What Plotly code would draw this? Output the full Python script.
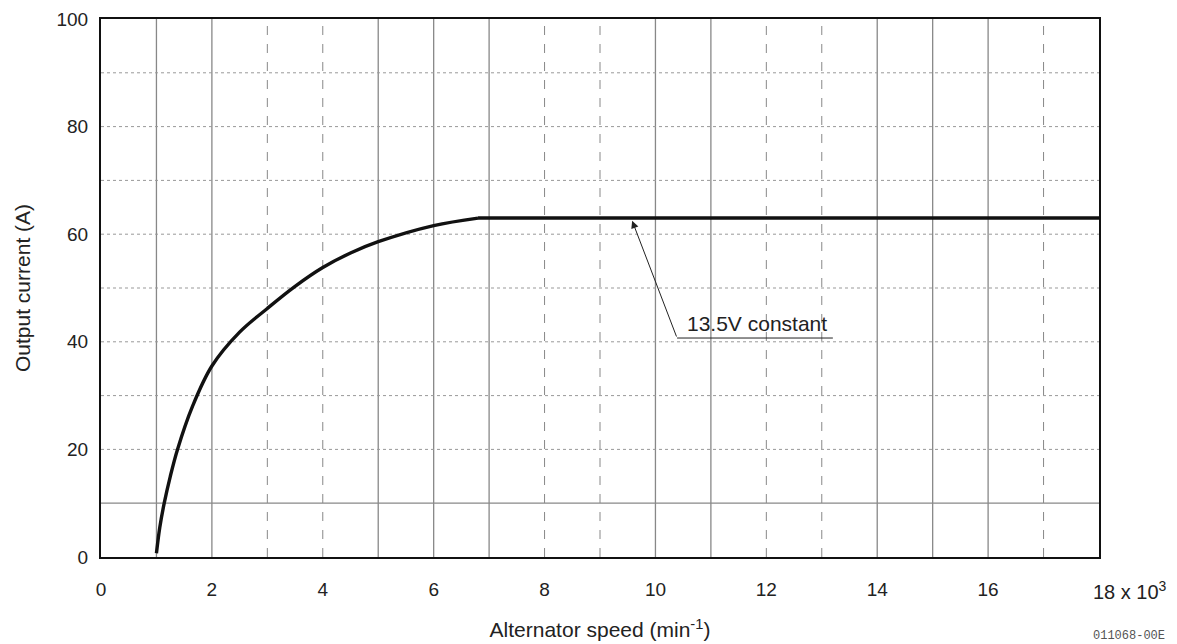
import plotly.graph_objects as go

# ---- data ----
speed_k = [1.0, 1.06, 1.14, 1.25, 1.38, 1.65, 2.0, 2.5, 3.0, 3.5, 4.0, 4.5, 5.0, 6.0, 6.8]
current_a = [0.7, 5.5, 10.0, 15.0, 20.0, 28.0, 35.5, 41.8, 46.2, 50.3, 53.8, 56.5, 58.6, 61.6, 63.0]
flat_speed_k = [6.8, 18.0]
flat_current_a = [63.0, 63.0]

x_ticks = [0, 2, 4, 6, 8, 10, 12, 14, 16, 18]
x_ticktext = ["0", "2", "4", "6", "8", "10", "12", "14", "16", ""]
y_ticks = [0, 20, 40, 60, 80, 100]

grid_x_solid = [1, 2, 5, 6, 7, 10, 11, 14, 15, 16]
grid_x_dashed = [3, 4, 8, 9, 12, 13, 17]
grid_y_solid = [10]
grid_y_dotted = [20, 30, 40, 50, 60, 70, 80, 90]

annot_label = "13.5V constant"
annot_tip = (9.58, 62.5)
annot_knee = (10.39, 40.7)
annot_end_x = 13.2

FONT = "Liberation Sans, Arial, sans-serif"

fig = go.Figure()

fig.add_trace(go.Scatter(x=speed_k, y=current_a, mode="lines",
                         line=dict(color="#111111", width=3.4, shape="spline", smoothing=1.0),
                         hoverinfo="skip", showlegend=False))
fig.add_trace(go.Scatter(x=flat_speed_k, y=flat_current_a, mode="lines",
                         line=dict(color="#111111", width=3.4),
                         hoverinfo="skip", showlegend=False))

shapes = []
for gx in grid_x_solid:
    shapes.append(dict(type="line", xref="x", yref="y", x0=gx, x1=gx, y0=0, y1=100,
                       line=dict(color="#888888", width=1.3), layer="below"))
for gx in grid_x_dashed:
    shapes.append(dict(type="line", xref="x", yref="y", x0=gx, x1=gx, y0=0, y1=100,
                       line=dict(color="#888888", width=1, dash="dash"), layer="below"))
for gy in grid_y_solid:
    shapes.append(dict(type="line", xref="x", yref="y", x0=0, x1=18, y0=gy, y1=gy,
                       line=dict(color="#888888", width=1.3), layer="below"))
for gy in grid_y_dotted:
    shapes.append(dict(type="line", xref="x", yref="y", x0=0, x1=18, y0=gy, y1=gy,
                       line=dict(color="#999999", width=1, dash="dot"), layer="below"))
# underline of the callout
shapes.append(dict(type="line", xref="x", yref="y", x0=annot_knee[0], x1=annot_end_x,
                   y0=annot_knee[1], y1=annot_knee[1], line=dict(color="#222222", width=1)))

annotations = [
    dict(x=annot_tip[0], y=annot_tip[1], ax=annot_knee[0], ay=annot_knee[1],
         xref="x", yref="y", axref="x", ayref="y", text="", showarrow=True,
         arrowhead=2, arrowsize=1.5, arrowwidth=1, arrowcolor="#222222", standoff=0),
    dict(x=(annot_knee[0] + annot_end_x) / 2 + 0.03, y=annot_knee[1], xref="x", yref="y",
         text=annot_label, showarrow=False, yanchor="bottom", yshift=1,
         font=dict(family=FONT, size=21, color="#222222")),
    dict(x=18, y=0, xref="x", yref="paper", text="18 x 10<sup>3</sup>", showarrow=False,
         xanchor="left", yanchor="top", xshift=-8, yshift=-19,
         font=dict(family=FONT, size=20, color="#222222")),
    dict(x=(1167 - 101) / 998, y=(557 - 636) / 538, xref="paper", yref="paper",
         text="011068-00E", showarrow=False, xanchor="right", yanchor="middle",
         font=dict(family="Liberation Mono, Courier New, monospace", size=12, color="#555555")),
]

# the page body has an 8px margin, so the figure is 8px smaller and shifted
fig.update_layout(
    width=1169, height=636,
    margin=dict(l=93, r=78, t=11, b=87),
    paper_bgcolor="white", plot_bgcolor="white",
    font=dict(family=FONT, size=19, color="#222222"),
    shapes=shapes, annotations=annotations,
    xaxis=dict(range=[0, 18], tickvals=x_ticks, ticktext=x_ticktext, showgrid=False,
               zeroline=False, showline=True, linecolor="#111111", linewidth=2, mirror=True,
               ticks="", ticklabelstandoff=14, automargin=False,
               title=dict(text="Alternator speed (min<sup>-1</sup>)", standoff=24,
                          font=dict(family=FONT, size=21, color="#222222"))),
    yaxis=dict(range=[0, 100], tickvals=y_ticks, showgrid=False, zeroline=False,
               showline=True, linecolor="#111111", linewidth=2, mirror=True,
               ticks="", ticklabelstandoff=7, automargin=False,
               title=dict(text="Output current (A)", standoff=20,
                          font=dict(family=FONT, size=21, color="#222222"))),
)

fig.write_html("out.html")
